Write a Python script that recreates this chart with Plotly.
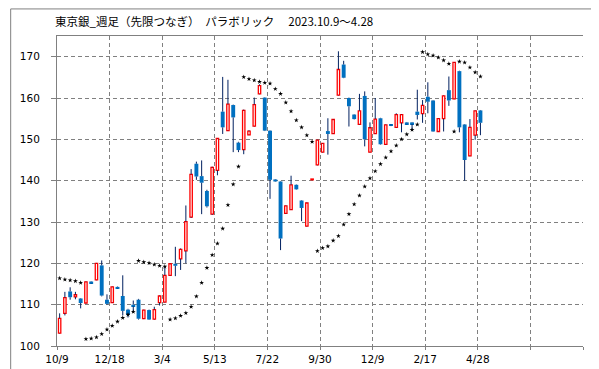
import plotly.graph_objects as go

# ---- data (weekly candles, 2023.10.9 - 2025.4.28) ----
opens = [103.1, 107.9, 113.2, 111.9, 111.5, 110.4, 115.6, 116.0, 119.5, 111.2,
         110.5, 114.3, 112.1, 108.8, 110.0, 111.2, 106.6, 108.7, 106.5, 110.5,
         110.6, 117.1, 119.9, 121.1, 123.0, 131.2, 144.1, 141.1, 137.5, 131.9,
         142.5, 156.7, 152.1, 158.3, 149.2, 147.5, 151.1, 153.2, 161.0, 160.1,
         152.1, 140.3, 139.8, 132.1, 133.0, 139.0, 135.2, 129.0, 140.2, 143.8,
         146.9, 152.0, 151.4, 160.7, 168.1, 160.0, 156.0, 153.6, 160.5, 146.9,
         151.4, 155.1, 148.8, 153.6, 152.9, 154.0, 154.1, 154.1, 156.7, 156.2,
         160.3, 159.4, 151.9, 155.0, 161.9, 159.8, 166.5, 153.6, 146.0, 151.0,
         157.0]
highs = [107.9, 113.1, 114.2, 113.1, 111.6, 115.6, 115.7, 120.1, 120.7, 112.5,
         114.4, 114.4, 117.1, 109.0, 111.0, 111.4, 108.8, 108.8, 109.5, 112.2,
         119.1, 120.0, 124.0, 123.6, 134.0, 142.8, 144.6, 144.9, 137.8, 143.4,
         150.3, 165.1, 164.4, 158.4, 149.4, 157.2, 152.2, 160.1, 163.3, 160.2,
         152.2, 140.4, 139.9, 134.0, 141.2, 139.1, 135.3, 134.7, 140.4, 149.9,
         149.1, 155.1, 154.9, 171.3, 169.0, 160.1, 156.1, 161.0, 161.6, 154.1,
         160.0, 155.2, 153.6, 153.7, 156.3, 156.1, 154.2, 154.2, 162.0, 159.5,
         163.8, 159.5, 155.1, 160.6, 165.2, 168.7, 166.6, 153.7, 154.9, 157.0,
         157.1]
lows = [103.0, 107.4, 111.2, 111.3, 109.1, 110.3, 115.1, 115.9, 112.0, 110.0,
        110.4, 113.8, 107.4, 106.9, 108.0, 106.4, 106.5, 106.3, 106.4, 109.8,
        110.5, 117.0, 116.9, 118.4, 120.0, 131.0, 140.2, 131.9, 133.5, 131.7,
        141.3, 151.3, 152.0, 146.9, 146.9, 146.4, 151.0, 153.1, 160.9, 152.0,
        135.6, 139.7, 123.2, 132.0, 132.9, 137.8, 130.2, 128.9, 140.2, 143.7,
        146.8, 146.3, 151.3, 160.6, 164.8, 153.1, 154.8, 153.5, 148.3, 146.8,
        151.3, 148.7, 148.7, 153.2, 152.8, 151.7, 153.6, 152.0, 154.8, 154.0,
        156.3, 151.8, 151.8, 151.9, 158.1, 159.7, 151.7, 140.0, 145.9, 149.9,
        151.0]
closes = [106.7, 111.7, 111.8, 112.4, 110.4, 115.5, 115.2, 120.0, 112.2, 110.2,
          114.3, 113.9, 108.5, 107.5, 109.6, 106.6, 108.7, 106.4, 108.8, 112.1,
          117.1, 119.9, 119.4, 123.4, 130.1, 141.5, 141.0, 139.5, 133.8, 143.2,
          150.2, 152.9, 158.5, 155.3, 147.4, 157.0, 152.0, 158.4, 163.0, 152.1,
          140.2, 139.8, 126.0, 133.9, 139.0, 137.9, 133.4, 134.6, 140.4, 149.8,
          149.0, 151.3, 154.8, 166.9, 164.9, 158.0, 154.9, 156.9, 150.0, 152.8,
          154.9, 148.8, 153.5, 153.3, 156.0, 156.0, 153.7, 153.7, 155.9, 158.2,
          159.1, 151.9, 155.0, 160.5, 159.4, 168.6, 152.9, 145.0, 152.9, 156.9,
          154.0]
sar = [116.4, 116.1, 115.9, 115.7, 115.3, 101.7, 101.8, 102.1, 102.9, 104.0,
       104.9, 105.9, 106.8, 107.6, 108.3, 120.6, 120.3, 120.1, 119.7, 119.4,
       119.2, 106.4, 106.7, 107.3, 108.0, 109.5, 112.0, 115.3, 118.9, 122.0,
       124.8, 128.4, 134.1, 139.1, 143.4, 165.1, 164.6, 164.3, 163.9, 163.7,
       163.5, 162.2, 161.0, 158.9, 156.8, 154.6, 152.9, 151.0, 149.4, 123.0,
       123.7, 124.1, 125.5, 126.6, 129.4, 131.9, 134.3, 136.4, 138.6, 140.6,
       142.3, 144.0, 145.6, 147.1, 148.5, 150.0, 151.2, 152.3, 153.6, 171.1,
       170.6, 170.3, 169.8, 169.1, 168.3, 151.9, 168.8, 168.6, 167.4, 166.2,
       165.2]
tick_labels = ["10/9", "12/18", "3/4", "5/13", "7/22", "9/30", "12/9", "2/17", "4/28", "", ""]
y_ticks = [100, 110, 120, 130, 140, 150, 160, 170]
title_text = "東京銀_週足（先限つなぎ）　パラボリック　 2023.10.9～4.28"

n = len(closes)
idx = list(range(n))

up_x, up_base, up_h = [], [], []
dn_x, dn_base, dn_h = [], [], []
wick_x, wick_y = [], []
for i in idx:
    o, h, l, c = opens[i], highs[i], lows[i], closes[i]
    top, bot = max(o, c), min(o, c)
    if c >= o:
        up_x.append(i); up_base.append(bot); up_h.append(max(top - bot, 0.15))
    else:
        dn_x.append(i); dn_base.append(bot); dn_h.append(max(top - bot, 0.15))
    if h > top:
        wick_x += [i, i, None]; wick_y += [top, h, None]
    if l < bot:
        wick_x += [i, i, None]; wick_y += [l, bot, None]

fig = go.Figure()
fig.add_trace(go.Bar(x=dn_x, y=dn_h, base=dn_base, width=0.74,
                     marker=dict(color="#0070C0", line=dict(width=0))))
fig.add_trace(go.Bar(x=up_x, y=up_h, base=up_base, width=0.45,
                     marker=dict(color="#FFFFFF", line=dict(color="#FF0000", width=1.3))))
fig.add_trace(go.Scatter(x=wick_x, y=wick_y, mode="lines",
                         line=dict(color="#002060", width=1), hoverinfo="skip"))
fig.add_trace(go.Scatter(x=idx, y=sar, mode="markers",
                         marker=dict(color="#000000", size=3.6, symbol="star",
                                     line=dict(width=0))))

grid = dict(showgrid=True, gridcolor="#808080", gridwidth=1, griddash="4px,3px",
            zeroline=False, showline=True, linecolor="#808080", linewidth=1)

fig.update_layout(
    width=599, height=369,
    margin=dict(l=47, r=24, t=28, b=26),
    paper_bgcolor="#FFFFFF", plot_bgcolor="#FFFFFF",
    showlegend=False, barmode="overlay",
    font=dict(family="DejaVu Sans", size=10.5, color="#000000"),
    xaxis=dict(range=[-0.5, 99.5], tickmode="array",
               tickvals=[-0.5 + 10 * k for k in range(len(tick_labels))],
               ticktext=tick_labels, ticks="outside", ticklen=3, tickcolor="#808080",
               mirror=True, tickfont=dict(family="DejaVu Sans", size=10.5, color="#000000"),
               **grid),
    yaxis=dict(range=[100, 175], tickmode="array", tickvals=y_ticks,
               ticktext=[str(v) for v in y_ticks], ticks="outside", ticklen=5,
               tickcolor="#808080", ticklabelstandoff=9,
               tickfont=dict(family="DejaVu Sans", size=10.5, color="#000000"),
               **grid),
)

fig.add_annotation(text=title_text, xref="paper", yref="paper",
                   x=-4 / 528, y=(343 - 13) / 315, xanchor="left", yanchor="middle",
                   showarrow=False,
                   font=dict(family="Noto Sans CJK JP", size=11.5, color="#000000"))

# outer chart border
fig.add_shape(type="rect", xref="paper", yref="paper",
              x0=-46.5 / 528, x1=551.5 / 528, y0=(343 - 368.5) / 315, y1=(343 - 0.5) / 315,
              line=dict(color="#808080", width=1), fillcolor="rgba(0,0,0,0)", layer="below")

fig.write_html("out.html")
